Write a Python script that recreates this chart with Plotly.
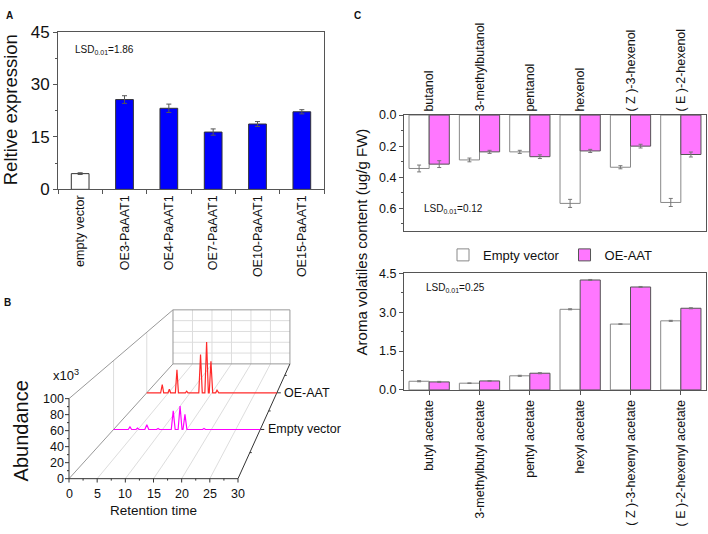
import plotly.graph_objects as go

W, H = 708, 534
FONT = "Liberation Sans, Arial, sans-serif"

# ---------------- Panel A data ----------------
a_cats = ["empty vector", "OE3-PaAAT1", "OE4-PaAAT1", "OE7-PaAAT1", "OE10-PaAAT1", "OE15-PaAAT1"]
a_vals = [4.5, 25.7, 23.2, 16.4, 18.7, 22.2]
a_errs = [0.25, 1.1, 1.2, 0.9, 0.7, 0.6]

# ---------------- Panel C data ----------------
alc_cats = ["butanol", "3-methylbutanol", "pentanol", "hexenol", "( Z )-3-hexenol", "( E )-2-hexenol"]
alc_ev = [0.344, 0.289, 0.237, 0.569, 0.336, 0.563]
alc_ev_err = [0.022, 0.012, 0.01, 0.026, 0.01, 0.026]
alc_oe = [0.316, 0.237, 0.268, 0.231, 0.200, 0.254]
alc_oe_err = [0.022, 0.01, 0.012, 0.01, 0.012, 0.016]

ace_cats = ["butyl acetate", "3-methylbutyl acetate", "pentyl acetate", "hexyl acetate",
            "( Z )-3-hexenyl acetate", "( E )-2-hexenyl acetate"]
ace_ev = [0.335, 0.26, 0.545, 3.11, 2.54, 2.665]
ace_ev_err = [0.02, 0.01, 0.02, 0.02, 0.01, 0.02]
ace_oe = [0.31, 0.347, 0.645, 4.24, 3.97, 3.15]
ace_oe_err = [0.02, 0.01, 0.02, 0.02, 0.02, 0.02]

# ---------------- Panel B data (chromatograms) ----------------
ev_t = [0, 3.0, 3.35, 3.7, 4.6, 4.9, 5.2, 6.4, 6.8, 7.2, 8.8, 9.1, 9.4, 11.8, 12.2, 12.6,
        13.2, 13.6, 14.0, 14.2, 14.6, 15.0, 18.2, 18.5, 18.8, 21.5, 21.8, 22.1, 30]
ev_a = [0, 0, 3.7, 0, 0, 1.9, 0, 0, 7.0, 0, 0, 1.5, 0, 0, 27.0, 0,
        0, 34.0, 0, 0, 22.0, 0, 0, 1.5, 0, 0, 1.0, 0, 0]
oe_t = [0, 3.2, 3.57, 3.9, 4.9, 5.2, 5.5, 6.6, 6.96, 7.3, 8.9, 9.2, 9.5, 12.0, 12.4, 12.8,
        13.4, 13.8, 14.2, 14.4, 14.8, 15.2, 15.9, 16.2, 16.6, 30]
oe_a = [0, 0, 13.5, 0, 0, 6.0, 0, 0, 38.0, 0, 0, 2.7, 0, 0, 63.0, 0,
        0, 84.0, 0, 0, 52.0, 0, 0, 4.2, 0, 0]
b_series = ["Empty vector", "OE-AAT"]
b_depth = [0.4286, 0.748]
t_ticks = [0, 5, 10, 15, 20, 25, 30]
a_ticks = [0, 20, 40, 60, 80, 100]

# ---------------- styles ----------------
BLUE = "#0000FF"
PINK = "#FF77FF"
AXC = "#555555"


def px_x(p):
    return p / W


def px_y(p):
    return 1 - p / H


fig = go.Figure()

# ===== Panel A =====
fig.add_trace(go.Bar(
    x=a_cats, y=a_vals, width=0.4,
    marker=dict(color=["#FFFFFF"] + [BLUE] * 5, line=dict(color="#333333", width=1)),
    error_y=dict(type="data", array=a_errs, color="#555555", thickness=1, width=2.5),
    xaxis="x", yaxis="y", showlegend=False))

# ===== Panel C top (alcohols) =====
fig.add_trace(go.Bar(
    x=alc_cats, y=alc_ev, name="Empty vector", width=0.4, offset=-0.4,
    marker=dict(color="#FFFFFF", line=dict(color="#888888", width=1)),
    error_y=dict(type="data", array=alc_ev_err, color="#777777", thickness=1, width=2),
    xaxis="x2", yaxis="y2", showlegend=True, legendgroup="ev"))
fig.add_trace(go.Bar(
    x=alc_cats, y=alc_oe, name="OE-AAT", width=0.4, offset=0.0,
    marker=dict(color=PINK, line=dict(color="#555555", width=1)),
    error_y=dict(type="data", array=alc_oe_err, color="#777777", thickness=1, width=2),
    xaxis="x2", yaxis="y2", showlegend=True, legendgroup="oe"))

# ===== Panel C bottom (acetates) =====
fig.add_trace(go.Bar(
    x=ace_cats, y=ace_ev, name="Empty vector", width=0.4, offset=-0.4,
    marker=dict(color="#FFFFFF", line=dict(color="#888888", width=1)),
    error_y=dict(type="data", array=ace_ev_err, color="#777777", thickness=1, width=2),
    xaxis="x3", yaxis="y3", showlegend=False, legendgroup="ev"))
fig.add_trace(go.Bar(
    x=ace_cats, y=ace_oe, name="OE-AAT", width=0.4, offset=0.0,
    marker=dict(color=PINK, line=dict(color="#555555", width=1)),
    error_y=dict(type="data", array=ace_oe_err, color="#777777", thickness=1, width=2),
    xaxis="x3", yaxis="y3", showlegend=False, legendgroup="oe"))

# ===== Panel B : perspective waterfall on a hidden axis =====
KX, KY, DX, DY = 0.308, 0.325, 18.46, 143.4
SX, SY = 5.633, 0.83        # px per unit on the front plane
X0PX, Y0PX = 69, 487        # front origin in px


def proj(t, a, s):
    return t * (1 - KX * s) + DX * s, a * (1 - KY * s) + DY * s


def seg_trace(segs, color, width=1):
    xs, ys = [], []
    for (p, q) in segs:
        x1, y1 = proj(*p)
        x2, y2 = proj(*q)
        xs += [x1, x2, None]
        ys += [y1, y2, None]
    return go.Scatter(x=xs, y=ys, mode="lines", line=dict(color=color, width=width),
                      xaxis="x4", yaxis="y4", showlegend=False, hoverinfo="skip")


grid = []
for t in t_ticks[1:-1]:
    grid.append(((t, 0, 1), (t, 100, 1)))
    grid.append(((t, 0, 0), (t, 0, 1)))
for a in a_ticks[1:-1]:
    grid.append(((0, a, 1), (30, a, 1)))
for s in b_depth:
    grid.append(((0, 0, s), (0, 100, s)))
fig.add_trace(seg_trace(grid, "#DDDDDD", 1))

frame_light = [((0, 0, 1), (30, 0, 1)), ((30, 0, 1), (30, 100, 1)), ((30, 100, 1), (0, 100, 1)),
               ((0, 100, 1), (0, 0, 1)), ((0, 100, 0), (0, 100, 1)), ((0, 0, 0), (0, 0, 1))]
fig.add_trace(seg_trace(frame_light, "#999999", 1))

frame_dark = [((0, 0, 0), (0, 100, 0)), ((0, 0, 0), (30, 0, 0)), ((30, 0, 0), (30, 0, 1))]
for a in range(0, 101, 10):
    L = 4 if a % 20 == 0 else 2
    frame_dark.append(((-L / SX, a, 0), (0, a, 0)))
for i in range(0, 13):
    t = i * 2.5
    L = 4 if i % 2 == 0 else 2
    frame_dark.append(((t, -L / SY, 0), (t, 0, 0)))
for s in [0.227, 0.59, 0.9] + b_depth:
    L = 4 if s in b_depth else 2
    frame_dark.append(((30, 0, s), (30 + L / SX / (1 - KX * s), 0, s)))
fig.add_trace(seg_trace(frame_dark, "#333333", 1))

ann = []

for name, tt, aa, s, col in [("Empty vector", ev_t, ev_a, b_depth[0], "#FF00FF"),
                             ("OE-AAT", oe_t, oe_a, b_depth[1], "#FF2A2A")]:
    pts = [proj(t, a, s) for t, a in zip(tt, aa)]
    fig.add_trace(go.Scatter(x=[p[0] for p in pts], y=[p[1] for p in pts], mode="lines",
                             line=dict(color=col, width=1.2), xaxis="x4", yaxis="y4",
                             showlegend=False, name=name))
    xe, ye = proj(30, 0, s)
    ann.append(dict(x=xe + 5.5 / SX, y=ye, xref="x4", yref="y4", text=name, showarrow=False,
                    xanchor="left", yanchor="middle",
                    font=dict(family=FONT, size=12.5, color="#111111")))

for v in a_ticks:
    ann.append(dict(x=-0.5, y=v, xref="x4", yref="y4", text=str(v), showarrow=False,
                    xanchor="right", yanchor="middle",
                    font=dict(family=FONT, size=12.5, color="#111111")))
for v in t_ticks:
    ann.append(dict(x=v, y=-16 / SY, xref="x4", yref="y4", text=str(v), showarrow=False,
                    xanchor="center", yanchor="middle",
                    font=dict(family=FONT, size=12.5, color="#111111")))

# ---------------- layout ----------------
tickfont = dict(family=FONT, size=12.5, color="#111111")
bx0, bx1, by0, by1 = 60, 300, 300, 515

fig.update_layout(
    width=W, height=H, margin=dict(l=0, r=0, t=0, b=0),
    plot_bgcolor="rgba(0,0,0,0)", paper_bgcolor="white",
    font=dict(family=FONT, color="#111111"),
    barmode="overlay",
    xaxis=dict(domain=[px_x(58), px_x(324)], type="category", range=[-0.5, 5.5],
               showline=True, mirror=True, linecolor=AXC, linewidth=1,
               ticks="outside", tickson="boundaries", ticklen=4, tickcolor=AXC,
               tickangle=-90, tickfont=tickfont, showgrid=False, zeroline=False),
    yaxis=dict(domain=[px_y(187), px_y(24)], range=[0, 45], tickvals=[0, 15, 30, 45],
               showline=True, mirror=True, linecolor=AXC, linewidth=1,
               ticks="outside", ticklen=4, tickcolor=AXC,
               minor=dict(tickvals=[7.5, 22.5, 37.5], ticks="outside", ticklen=2, tickcolor=AXC),
               tickfont=dict(family=FONT, size=17, color="#111111"),
               showgrid=False, zeroline=False),
    xaxis2=dict(domain=[px_x(404), px_x(706)], type="category", range=[-0.5, 5.5], side="top",
                anchor="y2", showline=True, mirror=True, linecolor=AXC, linewidth=1,
                ticks="", tickangle=-90, tickfont=tickfont, showgrid=False, zeroline=False),
    yaxis2=dict(domain=[px_y(230.7), px_y(110)], range=[0.75, 0], anchor="x2",
                tickvals=[0, 0.2, 0.4, 0.6], ticktext=["0.0", "0.2", "0.4", "0.6"],
                showline=True, mirror=True, linecolor=AXC, linewidth=1,
                ticks="outside", ticklen=4, tickcolor=AXC,
                minor=dict(tickvals=[0.1, 0.3, 0.5, 0.7], ticks="outside", ticklen=2, tickcolor=AXC),
                tickfont=tickfont, showgrid=False, zeroline=False),
    xaxis3=dict(domain=[px_x(404), px_x(706)], type="category", range=[-0.5, 5.5],
                anchor="y3", showline=True, mirror=True, linecolor=AXC, linewidth=1,
                ticks="outside", ticklen=4, tickcolor=AXC,
                tickangle=-90, tickfont=tickfont, showgrid=False, zeroline=False),
    yaxis3=dict(domain=[px_y(395), px_y(274)], range=[0, 4.5], anchor="x3",
                tickvals=[0, 1.5, 3.0, 4.5], ticktext=["0.0", "1.5", "3.0", "4.5"],
                showline=True, mirror=True, linecolor=AXC, linewidth=1,
                ticks="outside", ticklen=4, tickcolor=AXC,
                minor=dict(tickvals=[0.75, 2.25, 3.75], ticks="outside", ticklen=2, tickcolor=AXC),
                tickfont=tickfont, showgrid=False, zeroline=False),
    xaxis4=dict(domain=[px_x(bx0), px_x(bx1)], anchor="y4",
                range=[(bx0 - X0PX) / SX, (bx1 - X0PX) / SX], visible=False),
    yaxis4=dict(domain=[px_y(by1), px_y(by0)], anchor="x4",
                range=[(Y0PX - by1) / SY, (Y0PX - by0) / SY], visible=False),
    legend=dict(orientation="h", x=px_x(443), y=px_y(255), xanchor="left", yanchor="middle",
                font=dict(family=FONT, size=13, color="#111111"), bgcolor="rgba(0,0,0,0)",
                traceorder="normal"),
)


def add_text(x, y, text, size, angle=0, xanchor="center"):
    ann.append(dict(x=px_x(x), y=px_y(y), xref="paper", yref="paper", text=text,
                    showarrow=False, textangle=angle, xanchor=xanchor, yanchor="middle",
                    font=dict(family=FONT, size=size, color="#111111")))


add_text(9.5, 7, "<b>A</b>", 10)
add_text(7, 304, "<b>B</b>", 10)
add_text(357, 7, "<b>C</b>", 10)
add_text(10, 105, "Reltive expression", 18.5, angle=-90)
add_text(73, 42, "LSD<sub>0.01</sub>=1.86", 10, xanchor="left")
add_text(422, 207, "LSD<sub>0.01</sub>=0.12", 10, xanchor="left")
add_text(424, 289, "LSD<sub>0.01</sub>=0.25", 10, xanchor="left")
add_text(361, 242, "Aroma volatiles content (ug/g FW)", 15, angle=-90)
add_text(21, 438, "Abundance", 20, angle=-90)
add_text(153, 520, "Retention time", 13.5)
add_text(66, 379, "x10<sup>3</sup>", 13)
fig.update_layout(annotations=ann)

fig.write_html("out.html", config={"displayModeBar": False},
               post_script="document.body.style.margin='0';document.body.style.overflow='hidden';")
